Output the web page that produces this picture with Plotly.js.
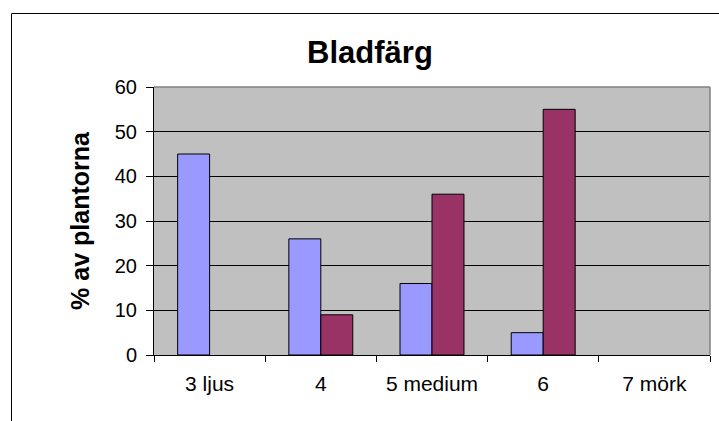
<!DOCTYPE html>
<html>
<head>
<meta charset="utf-8">
<script src="https://cdn.plot.ly/plotly-3.0.1.min.js"></script>
<style>
html,body{margin:0;padding:0;background:#fff;overflow:hidden;}
#chart{width:719px;height:421px;}
</style>
</head>
<body>
<div id="chart"></div>
<script>
var categories = ["3 ljus", "4", "5 medium", "6", "7 mörk"];
var seriesA = [45, 26, 16, 5, 0];
var seriesB = [0, 9, 36, 55, 0];
var yTicks = [0, 10, 20, 30, 40, 50, 60];

var FONT = "Arial, 'Liberation Sans', sans-serif";

function hideZero(arr) { return arr.map(function (v) { return v === 0 ? null : v; }); }

var traces = [
  {type: "bar", x: categories, y: hideZero(seriesA), name: "A",
   marker: {color: "#9999FF", line: {color: "#000000", width: 1}}},
  {type: "bar", x: categories, y: hideZero(seriesB), name: "B",
   marker: {color: "#993366", line: {color: "#000000", width: 1}}}
];

var layout = {
  width: 719, height: 421,
  margin: {l: 154, r: 9, t: 87, b: 66, pad: 0},
  paper_bgcolor: "#ffffff",
  plot_bgcolor: "#C0C0C0",
  showlegend: false,
  barmode: "group",
  bargap: 0.425,
  bargroupgap: 0,
  title: {text: "<b>Bladfärg</b>", font: {family: FONT, size: 31, color: "#000"},
          x: 0.5146, xref: "container", xanchor: "center", y: 0.875, yref: "container", yanchor: "middle"},
  font: {family: FONT, color: "#000"},
  xaxis: {
    type: "category",
    tickson: "boundaries",
    ticks: "outside", ticklen: 6, tickcolor: "#000", tickwidth: 1,
    ticklabelstandoff: 10,
    showline: true, linecolor: "#000", linewidth: 1,
    showgrid: false, zeroline: false,
    tickfont: {family: FONT, size: 21, color: "#000"},
    fixedrange: true
  },
  yaxis: {
    range: [0, 60],
    tickvals: yTicks,
    ticktext: yTicks.map(String),
    ticks: "outside", ticklen: 7, tickcolor: "#000", tickwidth: 1,
    ticklabelstandoff: 5,
    showline: true, linecolor: "#000", linewidth: 1,
    showgrid: true, gridcolor: "#000", gridwidth: 1,
    zeroline: false,
    tickfont: {family: FONT, size: 20, color: "#000"},
    title: {text: "<b>% av plantorna</b>", font: {family: FONT, size: 25, color: "#000"}, standoff: 18},
    fixedrange: true
  },
  shapes: [
    {type: "line", xref: "paper", yref: "paper", x0: 0, x1: 1, y0: 1, y1: 1,
     line: {color: "#808080", width: 1.5}, layer: "above"},
    {type: "line", xref: "paper", yref: "paper", x0: 1, x1: 1, y0: 0, y1: 1,
     line: {color: "#808080", width: 1.5}, layer: "above"}
  ]
};

Plotly.newPlot("chart", traces, layout, {displayModeBar: false, staticPlot: true}).then(function () {
  var svg = document.querySelector("#chart .main-svg");
  var ns = "http://www.w3.org/2000/svg";
  var g = document.createElementNS(ns, "g");
  var p = document.createElementNS(ns, "path");
  p.setAttribute("d", "M11.5,421 L11.5,13.5 L719,13.5");
  p.setAttribute("fill", "none");
  p.setAttribute("stroke", "#000");
  p.setAttribute("stroke-width", "1");
  g.appendChild(p);
  svg.insertBefore(g, svg.children[1] || null);
});
</script>
</body>
</html>
